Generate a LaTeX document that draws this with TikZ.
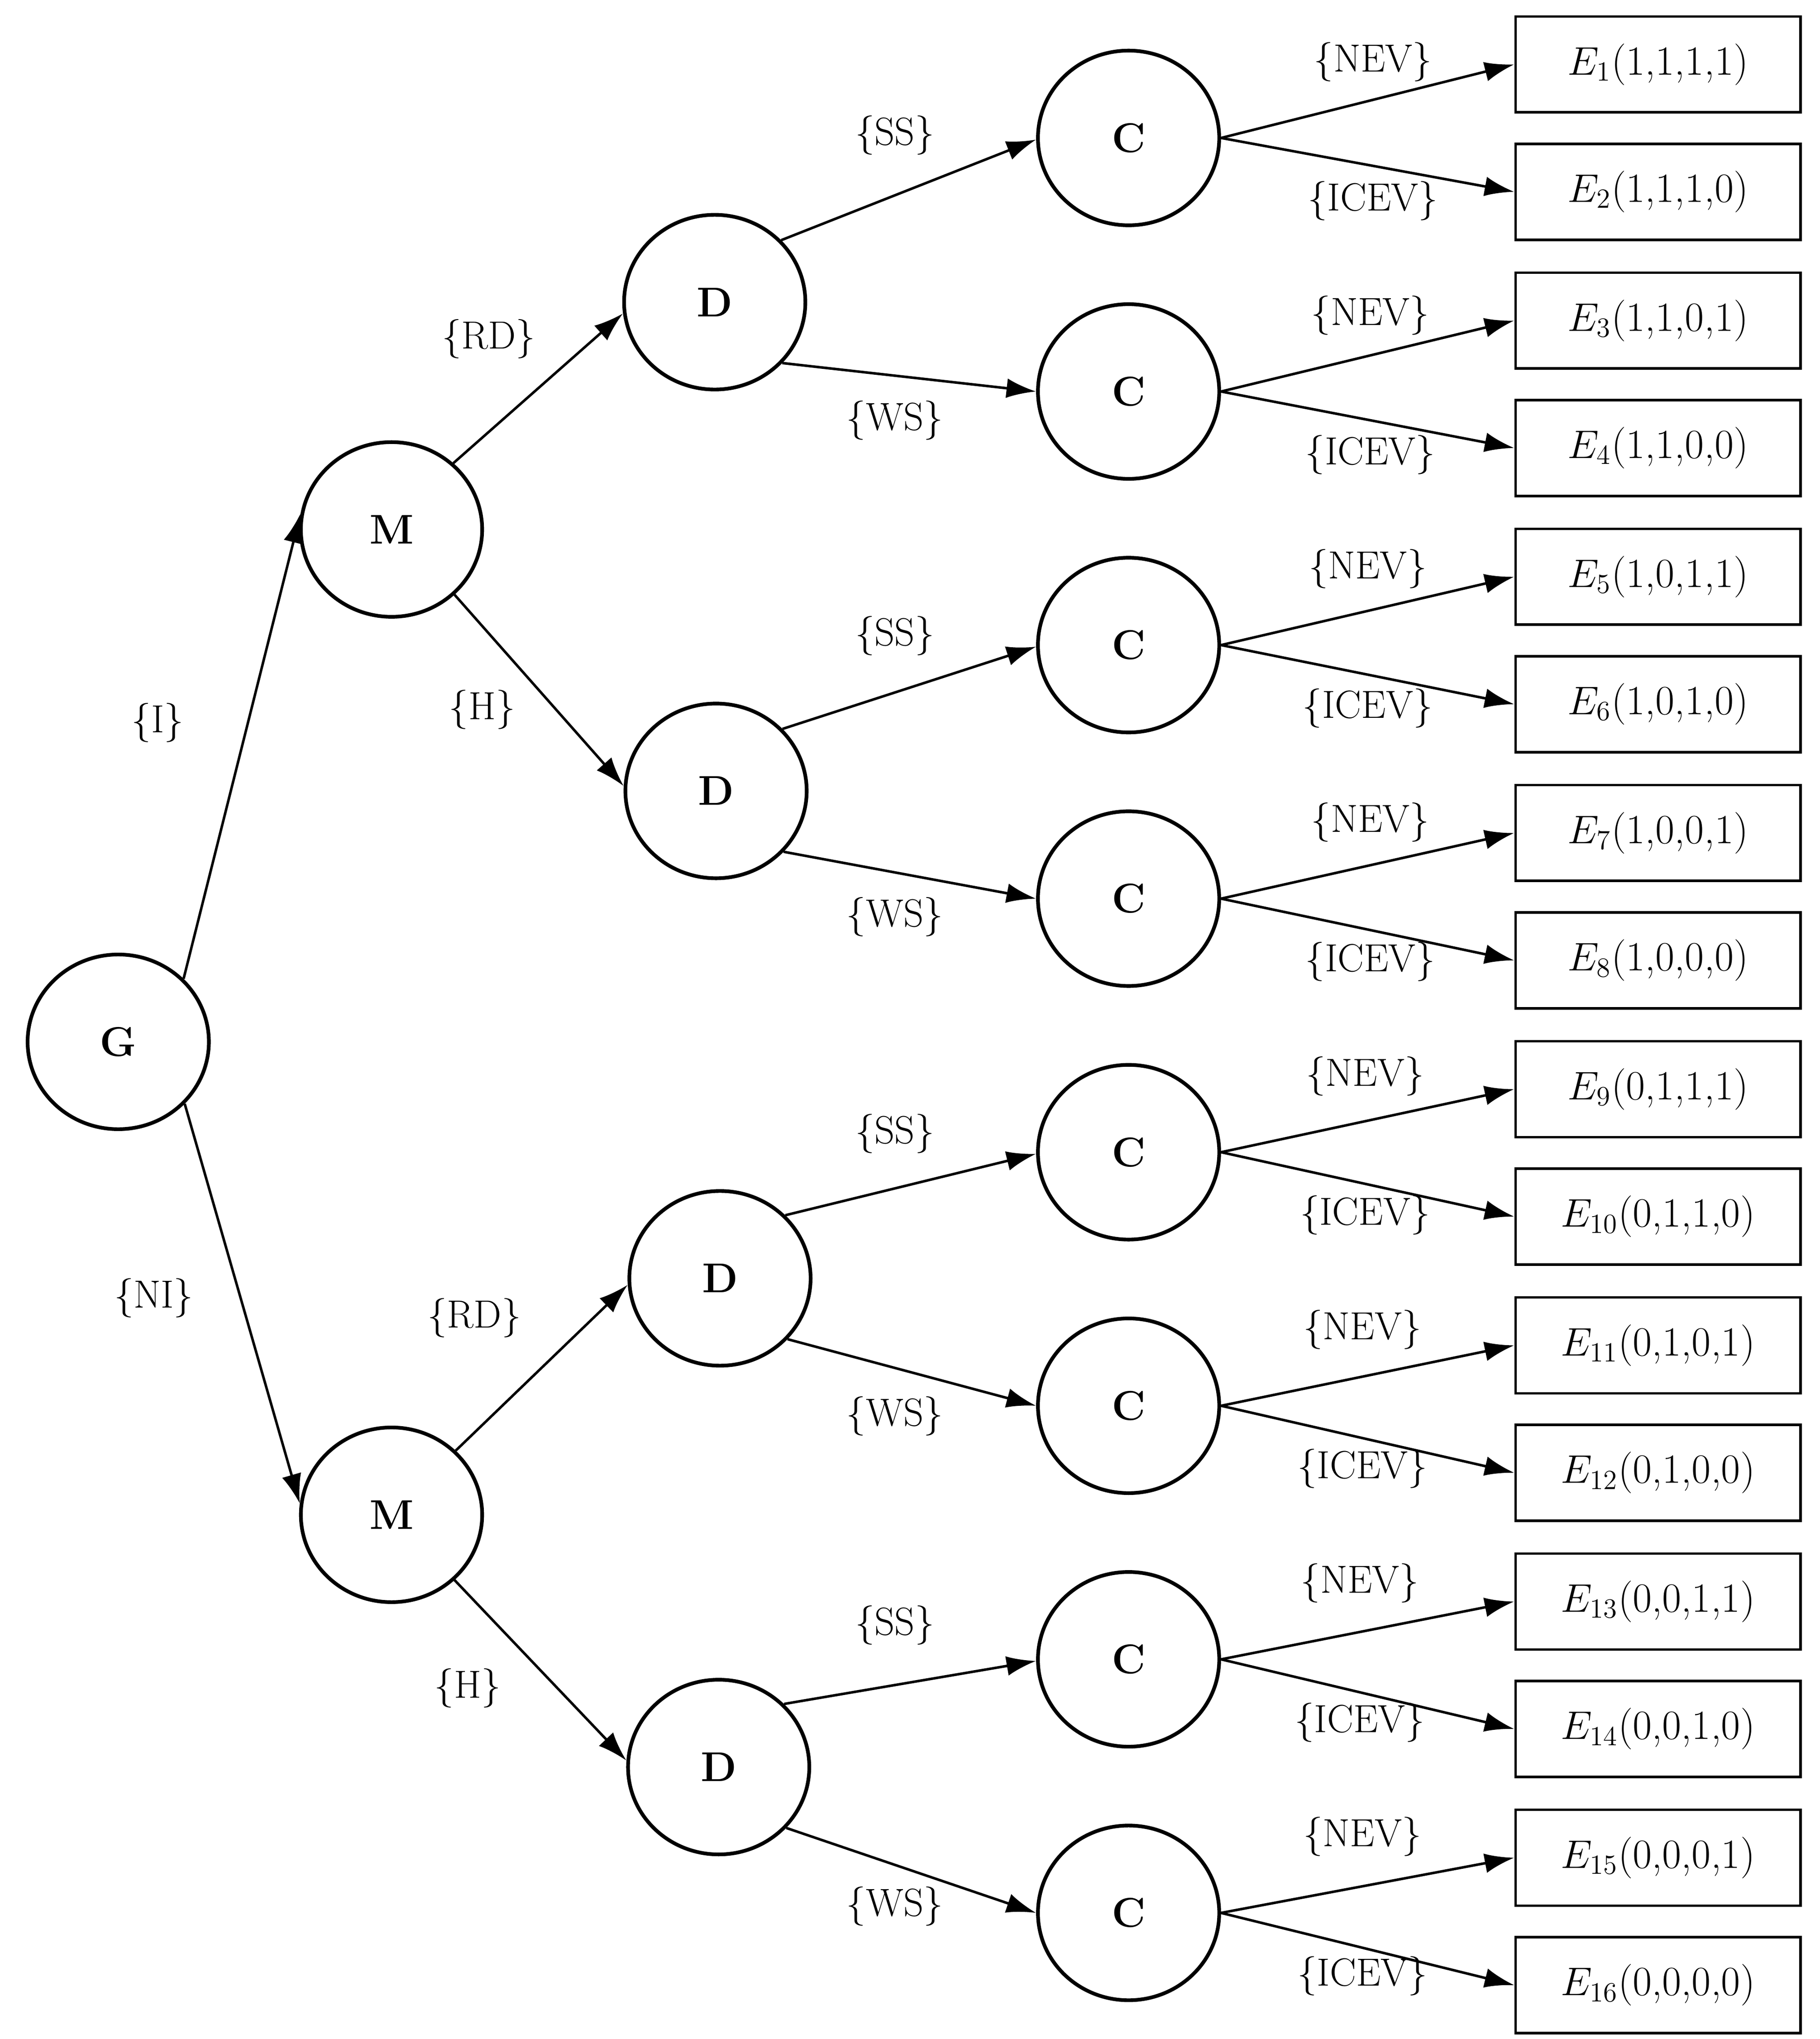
\documentclass[tikz,border=0pt]{standalone}
\usetikzlibrary{arrows.meta,shapes.geometric}
\begin{document}
\begin{tikzpicture}[x=0.02cm,y=-0.02cm,
  circ/.style={ellipse,draw,line width=1.6pt,minimum width=2.76cm,minimum height=2.66cm,inner sep=0pt,font=\fontsize{18}{20}\selectfont\bfseries},
  box/.style={rectangle,draw,line width=1.1pt,minimum width=4.34cm,minimum height=1.46cm,inner sep=0pt,font=\fontsize{18}{20}\selectfont},
  lab/.style={font=\fontsize{17}{19}\selectfont},
  arr/.style={line width=1.1pt,-{Latex[length=0.45cm,width=0.3cm]}}]
\useasboundingbox (0,0) rectangle (1385,1552);
\node[circ] (G) at (90,793) {G};
\node[circ] (M1) at (298,403) {M};
\node[circ] (M2) at (298,1153) {M};
\node[circ] (D1) at (544,230) {D};
\node[circ] (D2) at (545,602) {D};
\node[circ] (D3) at (548,973) {D};
\node[circ] (D4) at (547,1345) {D};
\foreach \i/\y in {1/105,2/298,3/491,4/684,5/877,6/1070,7/1263,8/1456}
  \node[circ] (C\i) at (859,\y) {C};
\foreach \i/\y/\t in {1/49/{1,1,1,1},2/146/{1,1,1,0},3/244/{1,1,0,1},4/341/{1,1,0,0},5/439/{1,0,1,1},6/536/{1,0,1,0},7/634/{1,0,0,1},8/731/{1,0,0,0},9/829/{0,1,1,1},10/926/{0,1,1,0},11/1024/{0,1,0,1},12/1121/{0,1,0,0},13/1219/{0,0,1,1},14/1316/{0,0,1,0},15/1414/{0,0,0,1},16/1511/{0,0,0,0}}
  \node[box] (E\i) at (1262,\y) {$E_{\i}$(\t)};
\draw[arr] (G.44) -- (M1.170);
\draw[arr] (G.-43) -- (M2.173);
\draw[arr] (M1.47) -- (D1.187);
\draw[arr] (M1.-46) -- (D2.177);
\draw[arr] (M2.45) -- (D3.184);
\draw[arr] (M2.-46) -- (D4.176);
\draw[arr] (D1.43) -- (C1.181); \draw[arr] (D1.-42) -- (C2.180);
\draw[arr] (D2.43) -- (C3.181); \draw[arr] (D2.-42) -- (C4.180);
\draw[arr] (D3.44) -- (C5.181); \draw[arr] (D3.-42) -- (C6.180);
\draw[arr] (D4.44) -- (C7.181); \draw[arr] (D4.-42) -- (C8.180);
\foreach \c/\a/\b in {1/1/2,2/3/4,3/5/6,4/7/8,5/9/10,6/11/12,7/13/14,8/15/16}{
  \draw[arr] (C\c.east) -- (E\a.west);
  \draw[arr] (C\c.east) -- (E\b.west);
}
\node[lab] (lI) at (120,550) {\{I\}};
\node[lab] (lNI) at (117,988) {\{NI\}};
\node[lab] (lRD1) at (372,258) {\{RD\}};
\node[lab] (lRD2) at (361,1003) {\{RD\}};
\node[lab] (lH1) at (367,540) {\{H\}};
\node[lab] (lH2) at (356,1285) {\{H\}};
\node[lab] (lSS1) at (681,103) {\{SS\}};
\node[lab] (lSS2) at (681,484) {\{SS\}};
\node[lab] (lSS3) at (681,863) {\{SS\}};
\node[lab] (lSS4) at (681,1237) {\{SS\}};
\node[lab] (lWS1) at (681,320) {\{WS\}};
\node[lab] (lWS2) at (681,698) {\{WS\}};
\node[lab] (lWS3) at (681,1078) {\{WS\}};
\node[lab] (lWS4) at (681,1451) {\{WS\}};
\foreach \c/\y/\x in {1/105/1045,2/298/1043,3/491/1041,4/684/1043,5/877/1039,6/1070/1037,7/1263/1035,8/1456/1037}{
  \node[lab] (n\c) at (\x,\y-58) {\{NEV\}};
  \node[lab] (i\c) at (\x,\y+48) {\{ICEV\}};
}
\end{tikzpicture}
\end{document}
